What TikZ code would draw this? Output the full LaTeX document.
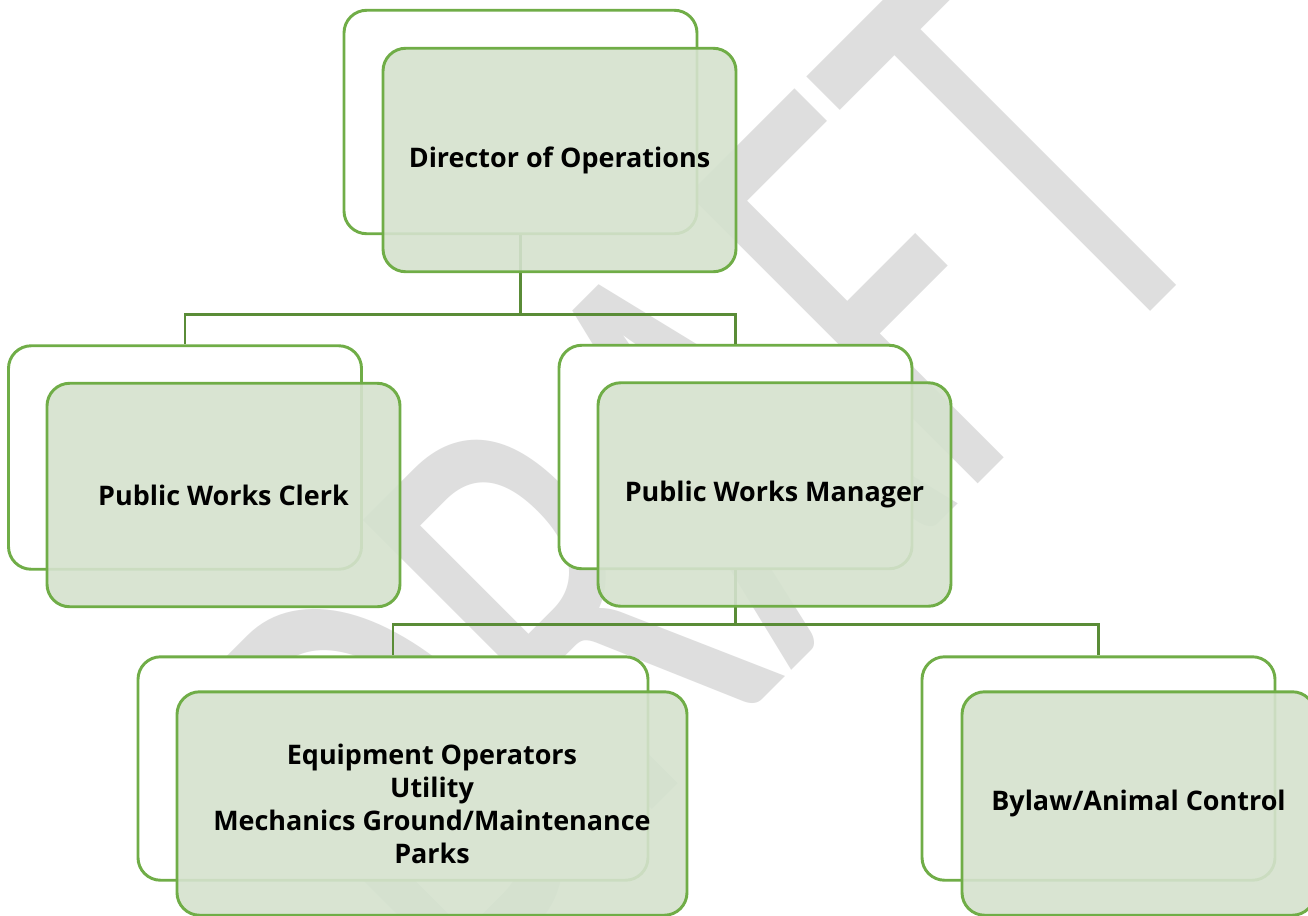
\documentclass[tikz,border=0pt]{standalone}
\usepackage{fontspec}
\usepackage{graphicx}
\setmainfont{Open Sans}
\newfontfamily\wmfont{Carlito}
\definecolor{boxline}{RGB}{112,173,71}
\definecolor{boxfill}{RGB}{213,226,206}
\definecolor{linkcol}{RGB}{90,140,55}
\definecolor{wmgray}{RGB}{222,222,222}
\tikzset{
  backbox/.style={draw=boxline,line width=2.2pt,fill=white,rounded corners=17pt,
    minimum width=264.75pt,minimum height=167.6pt,inner sep=0pt},
  frontbox/.style={backbox,fill=boxfill,fill opacity=.9,text opacity=1,align=center,
    font=\bfseries\fontsize{20.2}{24.75}\selectfont},
  link/.style={draw=linkcol,line width=2.2pt}
}
\begin{document}
\begin{tikzpicture}[x=.75pt,y=-.75pt]
\path[use as bounding box,fill=white] (0,0) rectangle (1308,915);
\node[anchor=base,rotate=45,inner sep=0pt,text=wmgray,font=\wmfont\fontsize{478}{478}\selectfont] (wm) at (843.7,618.3) {\scalebox{.647}[1]{DRAFT}};
% back boxes
\node[backbox] (dirb) at (520.5,122) {};
\node[backbox] (clerkb) at (185,457.5) {};
\node[backbox] (mgrb) at (735.5,457) {};
\node[backbox,minimum width=382.5pt] (equipb) at (393,768.5) {};
\node[backbox] (bylawb) at (1098.5,768.5) {};
% connectors
\draw[link] (dirb.south) -- ++(0,79) -| (clerkb.north);
\draw[link] (dirb.south) -- ++(0,79) -| (mgrb.north);
\draw[link] (mgrb.south) -- ++(0,54) -| (equipb.north);
\draw[link] (mgrb.south) -- ++(0,54) -| (bylawb.north);
% front boxes
\node[frontbox] (dir) at (559.5,160) {Director of Operations};
\node[frontbox] (clerk) at (223.5,495) {Public Works Clerk};
\node[frontbox] (mgr) at (774.5,494.5) {Public Works Manager};
\node[frontbox,minimum width=382.5pt] (equip) at (432,803.5) {Equipment Operators\\Utility\\Mechanics Ground/Maintenance\\Parks};
\node[frontbox] (bylaw) at (1138.5,803.5) {Bylaw/Animal Control};
\end{tikzpicture}
\end{document}
